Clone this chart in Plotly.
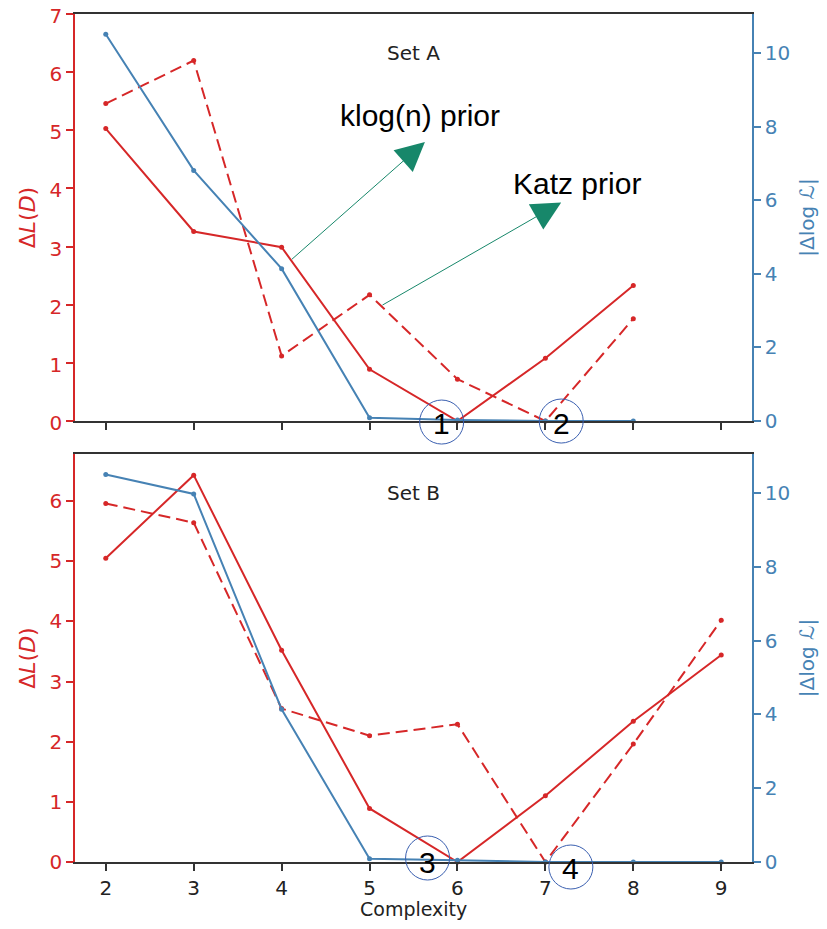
import plotly.graph_objects as go

# ---------------- data ----------------
complexity_a = [2, 3, 4, 5, 6, 7, 8]
complexity_b = [2, 3, 4, 5, 6, 7, 8, 9]
x_ticks = [2, 3, 4, 5, 6, 7, 8, 9]

dl_solid_a = [5.03, 3.26, 2.99, 0.89, 0.0, 1.08, 2.33]
dl_dashed_a = [5.46, 6.20, 1.12, 2.17, 0.72, 0.0, 1.76]
dlogl_a = [10.51, 6.81, 4.14, 0.09, 0.03, 0.0, 0.0]

dl_solid_b = [5.05, 6.43, 3.52, 0.89, 0.0, 1.10, 2.34, 3.44]
dl_dashed_b = [5.96, 5.64, 2.55, 2.10, 2.29, 0.0, 1.96, 4.02]
dlogl_b = [10.50, 9.97, 4.14, 0.09, 0.05, 0.0, 0.0, 0.0]

left_ticks_a = [0, 1, 2, 3, 4, 5, 6, 7]
left_ticks_b = [0, 1, 2, 3, 4, 5, 6]
right_ticks = [0, 2, 4, 6, 8, 10]

circle_labels = ["1", "2", "3", "4"]

# ---------------- style ----------------
RED = "#d62728"
BLUE = "#4682b4"
GREEN = "#17876a"
CIRCLE = "#3a5fb0"
FONT = "DejaVu Sans"
TXT = "Liberation Sans"

fig = go.Figure()


def red_trace(x, y, dash, xa, ya):
    return go.Scatter(x=x, y=y, mode="lines+markers", xaxis=xa, yaxis=ya,
                      line=dict(color=RED, width=2, dash=dash),
                      marker=dict(color=RED, size=5), cliponaxis=False,
                      showlegend=False)


def blue_trace(x, y, xa, ya):
    return go.Scatter(x=x, y=y, mode="lines+markers", xaxis=xa, yaxis=ya,
                      line=dict(color=BLUE, width=2),
                      marker=dict(color=BLUE, size=5), cliponaxis=False,
                      showlegend=False)


fig.add_trace(red_trace(complexity_a, dl_solid_a, "solid", "x", "y"))
fig.add_trace(red_trace(complexity_a, dl_dashed_a, "12px,6px", "x", "y"))
fig.add_trace(blue_trace(complexity_a, dlogl_a, "x", "y2"))
fig.add_trace(red_trace(complexity_b, dl_solid_b, "solid", "x2", "y3"))
fig.add_trace(red_trace(complexity_b, dl_dashed_b, "12px,6px", "x2", "y3"))
fig.add_trace(blue_trace(complexity_b, dlogl_b, "x2", "y4"))

xrange_ = [1.65, 9.35]
common_x = dict(range=xrange_, tickmode="array", tickvals=x_ticks,
                showline=True, mirror=True, linecolor="#333", linewidth=1.5,
                ticks="outside", ticklen=7, tickwidth=1.5, tickcolor="#333",
                showgrid=False, zeroline=False, automargin=False,
                ticklabeloverflow="allow",
                tickfont=dict(family=FONT, size=20, color="#222"))


def left_axis(rng, ticks, domain, anchor, shift=0):
    return dict(range=rng, tickmode="array", tickvals=ticks, domain=domain,
                anchor=anchor, showline=True, linecolor=RED, linewidth=1.5,
                ticks="outside", ticklen=7, tickwidth=1.5, tickcolor=RED,
                showgrid=False, zeroline=False, automargin=False,
                ticklabeloverflow="allow", ticklabelshift=shift,
                tickfont=dict(family=FONT, size=20, color=RED),
                title=dict(text="Δ<i>L</i>(<i>D</i>)", standoff=8,
                           font=dict(family=FONT, size=22, color=RED)))


def right_axis(rng, overlay, anchor):
    return dict(range=rng, tickmode="array", tickvals=right_ticks,
                overlaying=overlay, side="right", anchor=anchor,
                showline=True, linecolor=BLUE, linewidth=1.5,
                ticks="outside", ticklen=7, tickwidth=1.5, tickcolor=BLUE,
                showgrid=False, zeroline=False, automargin=False,
                ticklabeloverflow="allow",
                tickfont=dict(family=FONT, size=20, color=BLUE),
                title=dict(text="|Δlog <i>ℒ</i>|", standoff=11,
                           font=dict(family=FONT, size=20, color=BLUE)))


fig.update_layout(
    width=811, height=913,
    margin=dict(l=67, r=67, t=6, b=59),
    paper_bgcolor="white", plot_bgcolor="white",
    xaxis=dict(common_x, anchor="y", domain=[0, 1], showticklabels=False),
    xaxis2=dict(common_x, anchor="y3", domain=[0, 1]),
    yaxis=left_axis([0, 7], left_ticks_a, [0.52, 1], "x", shift=2),
    yaxis2=right_axis([0, 11.06], "y", "x"),
    yaxis3=left_axis([0, 6.78], left_ticks_b, [0, 0.481], "x2"),
    yaxis4=right_axis([0, 11.05], "y3", "x2"),
)

annotations = [
    dict(text="Complexity", xref="x2 domain", yref="y3 domain", x=0.5, y=0,
         xanchor="center", yanchor="top", yshift=-34, showarrow=False,
         font=dict(family=FONT, size=19, color="#222")),
    dict(text="Set A", xref="x domain", yref="y domain", x=0.5, y=0.905,
         xanchor="center", yanchor="middle",
         showarrow=False, font=dict(family=FONT, size=20, color="#222")),
    dict(text="Set B", xref="x2 domain", yref="y3 domain", x=0.5, y=0.904,
         xanchor="center", yanchor="middle",
         showarrow=False, font=dict(family=FONT, size=20, color="#222")),
    dict(text="klog(n) prior", xref="x", yref="y", x=5.57, y=5.26,
         xanchor="center", yanchor="middle",
         showarrow=False, font=dict(family=TXT, size=30, color="black")),
    dict(text="Katz prior", xref="x", yref="y", x=7.36, y=4.09,
         xanchor="center", yanchor="middle",
         showarrow=False, font=dict(family=TXT, size=30, color="black")),
    dict(text="", xref="x", yref="y", x=5.63, y=4.80, axref="x", ayref="y",
         ax=4.10, ay=2.76, showarrow=True, arrowhead=2, arrowsize=5.8,
         arrowwidth=1, arrowcolor=GREEN),
    dict(text="", xref="x", yref="y", x=7.18, y=3.76, axref="x", ayref="y",
         ax=5.13, ay=1.98, showarrow=True, arrowhead=2, arrowsize=5.8,
         arrowwidth=1, arrowcolor=GREEN),
]

# numbered circles: (xaxis, yaxis domain, x position, pixel dy of circle, pixel dy of text)
circle_specs = [("x", "y domain", 5.82, -1, -2),
                ("x", "y domain", 7.18, 0, -2),
                ("x2", "y3 domain", 5.66, 4, 0),
                ("x2", "y3 domain", 7.29, -5, -6)]
shapes = []
for lab, (xr, yr, xc, dyc, dyt) in zip(circle_labels, circle_specs):
    shapes.append(dict(type="circle", xref=xr, yref=yr, xsizemode="pixel",
                       ysizemode="pixel", xanchor=xc, yanchor=0,
                       x0=-22, x1=22, y0=-22 + dyc, y1=22 + dyc,
                       line=dict(color=CIRCLE, width=1), layer="above"))
    annotations.append(dict(text=lab, xref=xr, yref=yr, x=xc, y=0,
                            xanchor="center", yanchor="middle",
                            yshift=dyt, showarrow=False,
                            font=dict(family=TXT, size=30, color="black")))

fig.update_layout(annotations=annotations, shapes=shapes)

fig.write_html("out.html")
